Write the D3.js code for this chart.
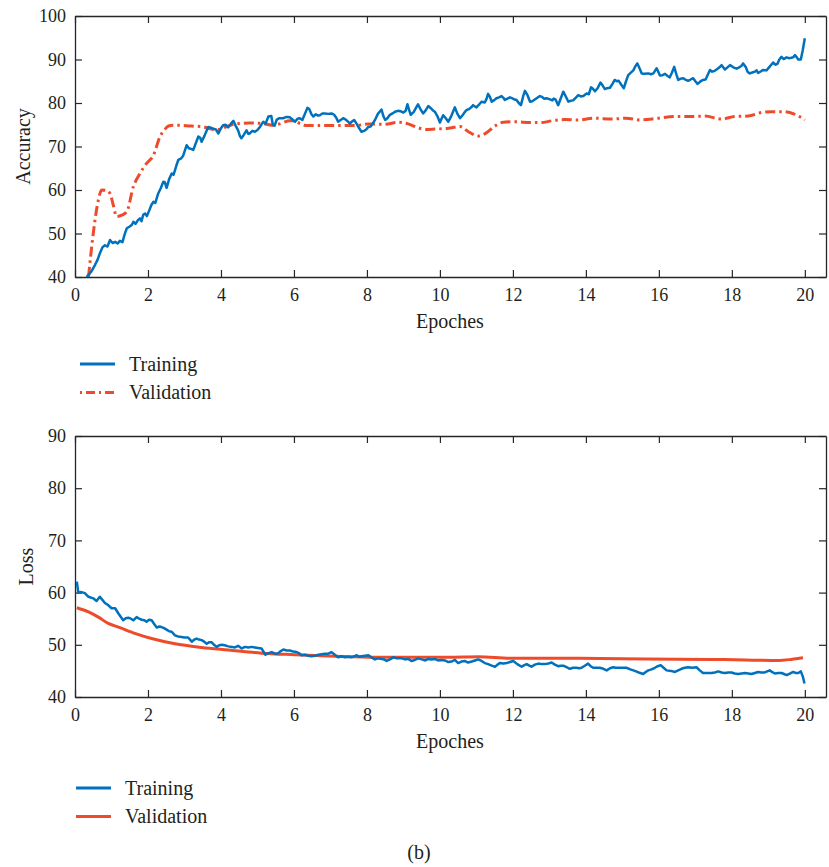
<!DOCTYPE html>
<html>
<head>
<meta charset="utf-8">
<script src="https://cdn.jsdelivr.net/npm/d3@7/dist/d3.min.js"></script>
<style>
  html, body { margin: 0; padding: 0; background: #fff; }
  svg { display: block; }
  text { font-family: "Liberation Serif", "DejaVu Serif", serif; fill: #231f20; }
</style>
</head>
<body>
<svg id="chart" width="829" height="867"></svg>
<script>
// ---------- DATA ----------
const xTicks = [0, 2, 4, 6, 8, 10, 12, 14, 16, 18, 20];
const accTicks = [40, 50, 60, 70, 80, 90, 100];
const lossTicks = [40, 50, 60, 70, 80, 90];
const seriesNames = ["Training", "Validation"];

const trainAccEpoch = [0.32,0.45,0.55,0.62,0.68,0.75,0.82,0.89,0.96,1.03,1.1,1.17,1.23,1.3,1.36,1.42,1.5,1.56,1.6,1.66,1.72,1.78,1.82,1.87,1.92,1.97,2.03,2.09,2.15,2.2,2.28,2.35,2.42,2.46,2.51,2.58,2.65,2.7,2.77,2.83,2.9,2.96,3.06,3.12,3.2,3.24,3.3,3.38,3.43,3.47,3.55,3.65,3.72,3.79,3.86,3.93,4.0,4.06,4.13,4.2,4.27,4.34,4.4,4.47,4.52,4.56,4.62,4.7,4.75,4.79,4.86,4.93,5.0,5.07,5.16,5.22,5.3,5.38,5.42,5.47,5.53,5.6,5.7,5.8,5.89,5.96,6.03,6.1,6.16,6.23,6.3,6.37,6.42,6.48,6.53,6.6,6.66,6.71,6.78,6.85,6.94,7.03,7.1,7.16,7.21,7.28,7.35,7.42,7.48,7.53,7.6,7.65,7.72,7.78,7.85,7.92,7.98,8.04,8.1,8.16,8.22,8.3,8.4,8.45,8.5,8.56,8.62,8.7,8.77,8.85,8.93,9.0,9.06,9.11,9.16,9.2,9.28,9.34,9.4,9.47,9.54,9.6,9.68,9.75,9.81,9.86,9.93,10.0,10.05,10.09,10.16,10.23,10.3,10.36,10.41,10.48,10.55,10.62,10.68,10.73,10.8,10.86,10.91,10.96,11.0,11.07,11.14,11.23,11.28,11.32,11.37,11.42,11.48,11.55,11.62,11.69,11.74,11.78,11.85,11.92,12.0,12.05,12.1,12.16,12.22,12.28,12.33,12.4,12.47,12.53,12.6,12.67,12.74,12.8,12.86,12.92,13.0,13.08,13.12,13.17,13.24,13.3,13.38,13.45,13.52,13.58,13.65,13.72,13.79,13.86,13.93,14.02,14.08,14.14,14.2,14.25,14.32,14.4,14.46,14.52,14.58,14.66,14.72,14.79,14.85,14.9,14.97,15.04,15.1,15.16,15.21,15.3,15.36,15.41,15.47,15.53,15.6,15.71,15.78,15.85,15.94,16.03,16.1,16.17,16.24,16.3,16.36,16.42,16.48,16.53,16.6,16.67,16.74,16.8,16.87,16.94,17.0,17.06,17.13,17.21,17.28,17.34,17.4,17.46,17.53,17.6,17.66,17.72,17.81,17.88,17.95,18.04,18.13,18.2,18.26,18.31,18.38,18.43,18.49,18.56,18.63,18.68,18.72,18.8,18.86,18.95,19.02,19.08,19.13,19.2,19.25,19.3,19.36,19.42,19.5,19.56,19.63,19.68,19.73,19.78,19.82,19.89,19.94,20.0];
const trainAcc = [40.0,41.3,42.8,44.0,45.4,46.8,47.3,47.0,48.5,47.8,48.1,47.7,48.3,48.0,49.8,51.2,51.6,52.0,52.7,52.2,53.0,53.5,52.8,54.3,54.6,54.0,55.2,56.5,57.3,57.0,59.2,60.4,61.9,61.8,60.5,62.5,63.8,63.5,65.4,66.9,67.2,67.8,70.3,69.6,69.4,69.2,70.5,72.3,72.0,71.1,72.5,74.5,74.3,74.1,73.9,73.0,74.2,74.9,75.0,74.4,75.2,75.9,74.8,73.7,72.4,71.9,72.6,73.7,72.9,73.0,73.6,73.4,73.8,74.5,75.7,75.2,76.9,77.0,75.0,74.8,76.2,76.5,76.5,76.8,76.7,76.2,75.7,76.4,76.5,76.1,77.5,78.9,78.6,77.4,76.9,77.4,77.1,77.2,77.6,77.6,77.5,77.6,77.3,76.6,75.7,76.1,76.5,76.2,75.7,75.3,75.8,76.1,75.2,74.3,73.4,73.6,73.9,74.5,74.6,75.3,76.1,77.5,78.5,77.0,76.1,76.5,77.2,77.6,78.0,78.2,78.1,77.8,78.2,79.7,78.3,77.3,77.9,78.8,79.7,78.5,77.6,78.2,79.3,78.8,78.3,78.0,77.0,75.5,76.5,77.2,76.5,75.7,76.8,78.0,79.0,77.5,76.5,77.2,77.9,78.4,78.6,79.0,79.5,79.2,79.0,79.6,80.3,80.1,81.0,82.1,81.4,80.3,80.6,81.1,81.3,81.6,81.2,80.7,81.0,81.3,81.0,80.8,80.7,80.0,79.5,81.5,82.8,81.8,80.3,80.4,80.8,81.2,81.6,81.4,81.0,81.1,80.9,80.6,81.0,80.8,79.5,80.8,82.6,81.5,80.3,80.5,80.6,81.2,81.8,81.5,81.6,82.2,82.0,83.6,83.2,82.7,83.4,84.7,84.0,83.2,83.4,83.5,84.3,85.3,85.0,85.1,84.2,83.4,85.0,86.4,86.8,87.5,88.5,89.1,88.0,86.8,86.7,86.8,86.6,86.8,88.0,86.3,86.4,86.7,86.2,85.9,87.0,88.3,86.6,85.3,85.6,85.7,85.3,85.1,85.4,85.7,85.0,84.4,84.9,85.3,85.4,86.5,87.6,87.2,87.4,87.8,88.2,88.7,87.7,88.2,88.7,88.2,87.9,88.2,88.5,89.1,88.3,87.2,86.8,87.0,87.2,87.5,86.9,87.3,87.6,87.5,88.2,88.8,89.3,88.8,89.0,90.0,90.6,90.1,90.5,90.3,90.4,90.5,91.0,90.5,90.0,90.0,92.0,94.9];

const valAccEpoch = [0.37,0.5,0.64,0.73,0.87,0.96,1.05,1.14,1.28,1.42,1.6,1.78,1.96,2.15,2.33,2.45,2.56,2.74,3.2,3.47,3.65,3.88,4.16,4.4,4.77,5.14,5.39,5.6,5.89,6.0,6.16,6.35,6.76,7.21,7.67,8.04,8.5,8.86,9.13,9.4,9.63,9.86,10.23,10.55,10.78,11.05,11.23,11.51,11.69,12.05,12.5,12.78,13.06,13.42,13.79,14.25,14.7,15.1,15.48,15.98,16.44,16.9,17.26,17.72,18.08,18.45,18.81,19.09,19.45,19.73,20.0];
const valAcc = [40,50.0,57.7,60.0,59.9,59.2,56.5,53.9,54.2,55.0,60.8,63.8,66.1,68.0,72.3,73.8,74.7,74.9,74.7,74.6,74.2,73.8,74.6,75.2,75.4,75.3,74.9,75.2,75.9,75.9,75.3,74.8,74.8,74.8,74.8,75.2,75.1,75.6,75.2,74.3,73.9,74.0,74.2,74.6,73.4,72.4,72.9,74.7,75.5,75.7,75.5,75.5,75.9,76.2,76.1,76.5,76.3,76.5,76.1,76.5,76.9,76.9,77.0,76.3,76.9,77.0,77.8,78.0,78.0,77.4,76.1];

const trainLossEpoch = [0.05,0.09,0.18,0.27,0.37,0.5,0.59,0.68,0.75,0.82,0.91,1.0,1.1,1.19,1.32,1.39,1.46,1.53,1.6,1.69,1.76,1.83,1.9,1.96,2.03,2.1,2.17,2.24,2.31,2.37,2.44,2.51,2.58,2.65,2.74,2.83,2.92,3.0,3.1,3.2,3.27,3.33,3.4,3.47,3.54,3.61,3.68,3.74,3.81,3.88,3.95,4.02,4.1,4.2,4.3,4.38,4.47,4.57,4.66,4.75,4.84,4.93,5.02,5.11,5.22,5.3,5.39,5.48,5.57,5.64,5.71,5.8,5.89,5.98,6.07,6.14,6.21,6.3,6.39,6.48,6.58,6.67,6.76,6.85,6.94,7.03,7.12,7.21,7.3,7.4,7.49,7.58,7.65,7.72,7.8,7.85,7.95,8.04,8.12,8.22,8.31,8.4,8.47,8.54,8.63,8.72,8.83,8.95,9.05,9.13,9.22,9.31,9.41,9.5,9.6,9.68,9.77,9.86,9.95,10.05,10.14,10.23,10.32,10.41,10.5,10.59,10.68,10.77,10.87,10.96,11.05,11.14,11.23,11.32,11.42,11.51,11.58,11.64,11.74,11.83,11.92,12.01,12.12,12.24,12.31,12.38,12.45,12.51,12.6,12.7,12.79,12.88,12.97,13.06,13.15,13.24,13.31,13.38,13.47,13.56,13.65,13.74,13.81,13.88,13.97,14.06,14.13,14.2,14.29,14.38,14.48,14.57,14.66,14.75,14.82,14.88,15.0,15.11,15.22,15.34,15.45,15.57,15.64,15.71,15.8,15.89,15.97,16.05,16.13,16.21,16.33,16.44,16.53,16.62,16.71,16.8,16.92,17.03,17.12,17.21,17.32,17.44,17.53,17.63,17.72,17.81,17.9,17.99,18.08,18.17,18.27,18.36,18.45,18.54,18.63,18.72,18.81,18.9,18.97,19.04,19.1,19.18,19.27,19.36,19.43,19.5,19.59,19.68,19.75,19.82,19.89,19.95,19.99];
const trainLoss = [62.1,60.0,60.1,59.9,59.2,58.9,58.4,59.2,58.6,58.0,57.6,57.0,57.0,56.0,54.7,55.1,55.2,55.0,54.7,55.3,55.0,54.8,54.7,54.4,54.8,54.7,54.0,53.3,53.5,53.4,53.2,52.9,52.6,52.5,51.8,51.6,51.5,51.4,51.4,50.6,51.0,51.2,51.0,50.9,50.6,50.2,50.5,50.5,50.0,49.6,49.9,50.0,49.9,49.7,49.6,49.5,49.8,49.3,49.6,49.5,49.6,49.5,49.4,49.3,48.1,48.4,48.6,48.3,48.4,48.8,49.1,48.9,48.9,48.7,48.6,48.4,48.0,48.1,47.9,47.8,47.9,48.1,48.2,48.3,48.3,48.6,48.1,47.6,47.8,47.6,47.7,47.6,47.8,48.0,47.7,47.8,47.9,48.0,47.6,47.2,47.4,47.3,47.2,46.9,47.2,47.6,47.4,47.4,47.2,47.3,46.9,47.1,47.4,47.2,47.0,47.3,47.2,47.3,47.0,47.1,47.0,46.7,46.8,47.1,46.5,46.8,46.9,46.6,46.8,47.0,47.2,46.9,46.5,46.3,46.0,45.8,46.2,46.5,46.4,46.5,46.7,46.9,46.3,45.8,46.1,46.3,46.0,45.8,46.2,46.4,46.3,46.3,46.4,46.6,46.2,45.9,46.0,46.0,45.7,45.4,45.6,45.6,45.5,45.6,46.0,46.4,45.9,45.6,45.6,45.6,45.4,45.1,45.5,45.7,45.6,45.6,45.6,45.6,45.3,45.0,44.7,44.4,44.8,45.1,45.3,45.6,45.9,46.1,45.6,45.1,45.0,44.8,45.1,45.4,45.6,45.7,45.6,45.7,45.1,44.6,44.6,44.6,44.7,44.9,44.7,44.6,44.7,44.7,44.5,44.4,44.5,44.6,44.5,44.4,44.6,44.8,44.7,44.7,44.9,45.1,44.8,44.5,44.6,44.6,44.4,44.2,44.5,44.8,44.6,44.6,44.9,43.8,42.6];

const valLossEpoch = [0.05,0.37,0.64,0.91,1.19,1.64,2.1,2.74,3.47,4.2,5.11,6.03,7.12,8.22,9.13,10.23,11.05,11.96,13.79,15.62,17.44,18.36,19.27,19.63,19.95];
const valLoss = [57.1,56.3,55.3,54.1,53.4,52.2,51.2,50.2,49.5,49.0,48.4,48.1,47.8,47.6,47.6,47.6,47.7,47.4,47.4,47.3,47.2,47.1,47.0,47.2,47.5];

// ---------- DRAWING ----------
const svg = d3.select("#chart");
const blue = "#0072bd";
const red = "#ee4b2b";
const axisColor = "#262626";
const tickFont = "18px";
const labelFont = "20px";

function zip(xs, ys) { return xs.map((x, i) => ({ x: x, y: ys[i] })); }

function panel(opts) {
  const x = d3.scaleLinear().domain([0, 20.58]).range([75, 826]);
  const y = d3.scaleLinear().domain(opts.yDomain).range([opts.bottom, opts.top]);
  const g = svg.append("g");
  const id = "clip" + opts.name;
  svg.append("defs").append("clipPath").attr("id", id)
    .append("rect").attr("x", 75).attr("y", opts.top).attr("width", 751).attr("height", opts.bottom - opts.top);

  // axes
  const ax = [
    g.append("g").attr("transform", `translate(0,${opts.bottom})`)
      .call(d3.axisBottom(x).tickValues(xTicks).tickSizeInner(-7).tickSizeOuter(0).tickPadding(11).tickFormat(d3.format("d"))),
    g.append("g").attr("transform", `translate(0,${opts.top})`)
      .call(d3.axisTop(x).tickValues(xTicks).tickSizeInner(-7).tickSizeOuter(0).tickFormat("")),
    g.append("g").attr("transform", `translate(75,0)`)
      .call(d3.axisLeft(y).tickValues(opts.yTicks).tickSizeInner(-7).tickSizeOuter(0).tickPadding(9).tickFormat(d3.format("d"))),
    g.append("g").attr("transform", `translate(826,0)`)
      .call(d3.axisRight(y).tickValues(opts.yTicks).tickSizeInner(-7).tickSizeOuter(0).tickFormat(""))
  ];
  ax.forEach(a => {
    a.select(".domain").attr("stroke", axisColor).attr("stroke-width", 1.3);
    a.selectAll(".tick line").attr("stroke", axisColor).attr("stroke-width", 1.2);
    a.selectAll(".tick text").attr("font-size", tickFont).attr("font-family", '"Liberation Serif", serif').attr("fill", "#231f20");
  });

  // labels
  g.append("text").attr("x", 450).attr("y", opts.bottom + 51).attr("text-anchor", "middle")
    .attr("font-size", labelFont).text("Epoches");
  const ycen = (opts.top + opts.bottom) / 2;
  g.append("text").attr("transform", `translate(${opts.yLabelX},${ycen}) rotate(-90)`)
    .attr("text-anchor", "middle").attr("font-size", labelFont).text(opts.yLabel);

  // lines
  const line = d3.line().x(d => x(d.x)).y(d => y(d.y));
  const lines = g.append("g").attr("clip-path", `url(#${id})`);
  lines.append("path").datum(zip(opts.valX, opts.valY))
    .attr("fill", "none").attr("stroke", red).attr("stroke-width", 3)
    .attr("stroke-dasharray", opts.dash || null)
    .attr("d", line.curve(d3.curveMonotoneX));
  lines.append("path").datum(zip(opts.trX, opts.trY))
    .attr("fill", "none").attr("stroke", blue).attr("stroke-width", 2.5).attr("stroke-linejoin", "round")
    .attr("d", d3.line().x(d => x(d.x)).y(d => y(d.y)));

  // legend
  const lg = g.append("g");
  seriesNames.forEach((name, i) => {
    const ly = opts.legendY + i * 28.5;
    lg.append("line").attr("x1", opts.legendX).attr("x2", opts.legendX + 35)
      .attr("y1", ly).attr("y2", ly)
      .attr("stroke", i === 0 ? blue : red).attr("stroke-width", 3)
      .attr("stroke-dasharray", i === 1 && opts.dash ? "2,4,9,4,2,4,9" : null);
    lg.append("text").attr("x", opts.legendX + 49).attr("y", ly + 6.5)
      .attr("font-size", labelFont).text(name);
  });
}

panel({ name: "acc", top: 16, bottom: 277, yDomain: [40, 100], yTicks: accTicks, yLabel: "Accuracy", yLabelX: 30,
  trX: trainAccEpoch, trY: trainAcc, valX: valAccEpoch, valY: valAcc, dash: "10,4,2.5,4",
  legendX: 80, legendY: 364 });

panel({ name: "loss", top: 436, bottom: 697, yDomain: [40, 90], yTicks: lossTicks, yLabel: "Loss", yLabelX: 33,
  trX: trainLossEpoch, trY: trainLoss, valX: valLossEpoch, valY: valLoss, dash: null,
  legendX: 76, legendY: 788 });

svg.append("text").attr("x", 419).attr("y", 859).attr("text-anchor", "middle")
  .attr("font-size", labelFont).text("(b)");
</script>
</body>
</html>
